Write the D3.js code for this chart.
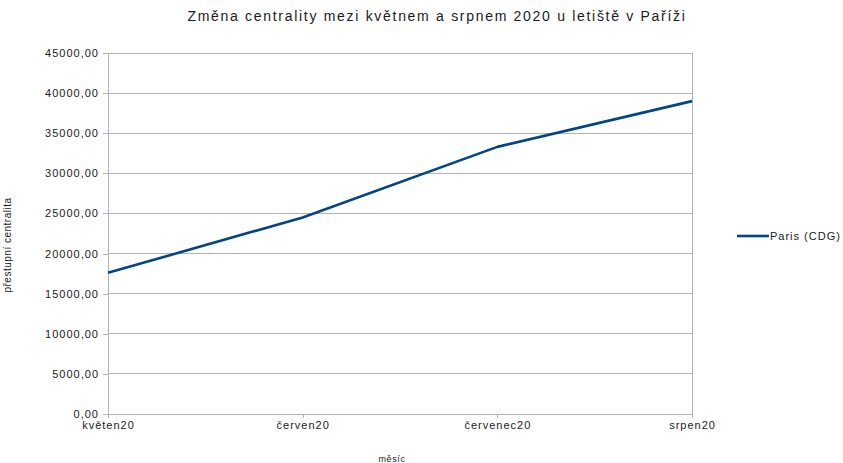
<!DOCTYPE html>
<html>
<head>
<meta charset="utf-8">
<script src="https://cdn.jsdelivr.net/npm/d3@7"></script>
<style>
  html, body { margin: 0; padding: 0; background: #fff; }
  svg { display: block; font-family: "Liberation Sans", Arial, sans-serif; }
</style>
</head>
<body>
<svg id="chart" width="843" height="463"></svg>
<script>
// Monthly transfer centrality of Paris CDG airport, May–August 2020
const months = ["květen20", "červen20", "červenec20", "srpen20"];
const centrality = [17600, 24500, 33300, 39000];
const yTicks = [0, 5000, 10000, 15000, 20000, 25000, 30000, 35000, 40000, 45000];
const seriesName = "Paris (CDG)";

const svg = d3.select("#chart");
const plot = { left: 108, right: 692, top: 53, bottom: 414 };
const gridColor = "#b3b3b3";
const lineColor = "#004586";
const textColor = "#1a1a1a";

const x = d3.scalePoint().domain(months).range([plot.left, plot.right]);
const y = d3.scaleLinear().domain([0, 45000]).range([plot.bottom, plot.top]);

const fmt = v => d3.format(".2f")(v).replace(".", ",");

// horizontal gridlines
svg.append("g")
  .selectAll("line")
  .data(yTicks)
  .join("line")
  .attr("x1", plot.left).attr("x2", plot.right)
  .attr("y1", d => y(d)).attr("y2", d => y(d))
  .attr("stroke", gridColor).attr("stroke-width", 1)
  .attr("shape-rendering", "crispEdges");

// y axis
const yAxis = svg.append("g")
  .attr("transform", `translate(${plot.left},0)`)
  .call(d3.axisLeft(y).tickValues(yTicks).tickFormat(fmt).tickSizeInner(5).tickSizeOuter(0).tickPadding(4));
yAxis.select(".domain").attr("stroke", gridColor).attr("shape-rendering", "crispEdges");
yAxis.selectAll(".tick line").attr("stroke", gridColor).attr("shape-rendering", "crispEdges");
yAxis.selectAll(".tick text").attr("font-size", 11).attr("fill", textColor)
  .attr("letter-spacing", 1)
  .attr("font-family", "Liberation Sans, Arial, sans-serif");

// x axis
const xAxis = svg.append("g")
  .attr("transform", `translate(0,${plot.bottom})`)
  .call(d3.axisBottom(x).tickSizeInner(4).tickSizeOuter(0).tickPadding(3));
xAxis.select(".domain").attr("stroke", gridColor).attr("shape-rendering", "crispEdges");
xAxis.selectAll(".tick line").attr("stroke", gridColor).attr("shape-rendering", "crispEdges");
xAxis.selectAll(".tick text").attr("font-size", 11).attr("fill", textColor)
  .attr("letter-spacing", 1)
  .attr("font-family", "Liberation Sans, Arial, sans-serif");

// right border of the plot area
svg.append("line")
  .attr("x1", plot.right).attr("x2", plot.right)
  .attr("y1", plot.top).attr("y2", plot.bottom)
  .attr("stroke", gridColor).attr("shape-rendering", "crispEdges");

// data line
const line = d3.line().x((d, i) => x(months[i])).y(d => y(d));
svg.append("path")
  .datum(centrality)
  .attr("d", line)
  .attr("fill", "none")
  .attr("stroke", lineColor)
  .attr("stroke-width", 2.6)
  .attr("stroke-linejoin", "round");

// title
svg.append("text")
  .attr("x", 437).attr("y", 21)
  .attr("text-anchor", "middle")
  .attr("font-size", 14).attr("fill", textColor)
  .attr("letter-spacing", 1.7)
  .text("Změna centrality mezi květnem a srpnem 2020 u letiště v Paříži");

// axis titles
svg.append("text")
  .attr("x", 392).attr("y", 462)
  .attr("text-anchor", "middle")
  .attr("font-size", 9).attr("fill", textColor)
  .attr("letter-spacing", 0.6)
  .text("měsíc");

svg.append("text")
  .attr("transform", "translate(11,245) rotate(-90)")
  .attr("text-anchor", "middle")
  .attr("font-size", 10).attr("fill", textColor)
  .attr("letter-spacing", 0.5)
  .text("přestupní centralita");

// legend
const legend = svg.append("g").attr("transform", "translate(737,236)");
legend.append("line")
  .attr("x1", 0).attr("x2", 32).attr("y1", 0).attr("y2", 0)
  .attr("stroke", lineColor).attr("stroke-width", 2.6);
legend.append("text")
  .attr("x", 33).attr("y", 4)
  .attr("font-size", 11).attr("fill", textColor)
  .attr("letter-spacing", 1)
  .text(seriesName);
</script>
</body>
</html>
